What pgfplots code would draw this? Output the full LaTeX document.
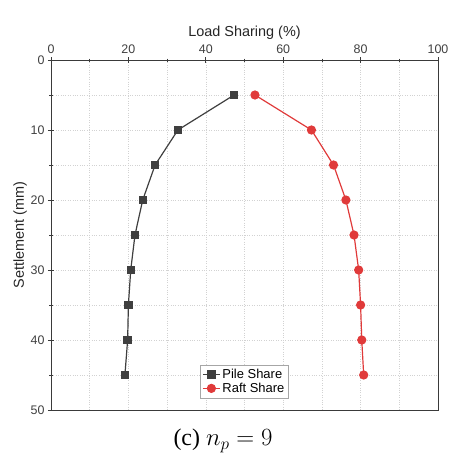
\documentclass[border=0pt]{standalone}
\usepackage{fontspec}
\setmainfont{Liberation Sans}
\newfontfamily\capfont{Liberation Serif}
\usepackage{pgfplots}
\pgfplotsset{compat=1.18}

\definecolor{pilec}{HTML}{3F3F3F}
\definecolor{raftc}{HTML}{E03A3A}
\definecolor{axc}{HTML}{3A3A3A}
\definecolor{gridc}{HTML}{D2D2D2}

\begin{document}
\begin{tikzpicture}
\begin{axis}[
  name=ax,
  scale only axis,
  width=387bp, height=350bp,
  xmin=0, xmax=100, ymin=0, ymax=50,
  y dir=reverse,
  xtick={0,20,...,100}, ytick={0,10,...,50},
  minor xtick={10,30,50,70,90},
  minor ytick={5,15,...,45},
  xtick pos=upper, ytick pos=left,
  xticklabel pos=upper,
  tick align=center,
  major tick length=6bp, minor tick length=3bp,
  every tick/.style={axc, line width=0.8pt},
  axis line style={axc, line width=1pt},
  grid=both,
  major grid style={gridc, dotted, line width=0.6pt},
  minor grid style={gridc, dotted, line width=0.6pt},
  xlabel={Load Sharing (\%)},
  ylabel={Settlement (mm)},
  xlabel near ticks,
  label style={font=\fontsize{14.5}{16}\selectfont, text=black!85},
  ticklabel style={font=\fontsize{12.5}{14}\selectfont, text=black!75},
  /pgf/number format/assume math mode=true,
  xlabel style={yshift=-2bp},
  ylabel style={yshift=-3bp},
  legend style={at={(0.385,0.034)}, anchor=south west,
    draw=black!35, line width=0.6pt, inner sep=2pt,
    font=\fontsize{13}{15}\selectfont, row sep=-1pt,
    cells={anchor=west}},
]
\addplot[pilec, line width=1.2pt, mark=square*, mark size=3.6pt,
  mark options={fill=pilec, draw=pilec}]
  coordinates {(47.3,5) (32.8,10) (26.9,15) (23.7,20) (21.7,25)
               (20.6,30) (20.0,35) (19.8,40) (19.1,45)};
\addlegendentry{Pile Share}
\addplot[raftc, line width=1.2pt, mark=*, mark size=4pt,
  mark options={fill=raftc, draw=raftc}]
  coordinates {(52.7,5) (67.3,10) (73.0,15) (76.2,20) (78.3,25)
               (79.5,30) (80.0,35) (80.3,40) (80.8,45)};
\addlegendentry{Raft Share}
\end{axis}
\path (ax.south west) ++(-51bp,-48bp) coordinate (bl);
\path (ax.north east) ++(10bp,60bp) coordinate (tr);
\path (bl) rectangle (tr);
\node[font=\capfont\fontsize{24}{28}\selectfont, anchor=center]
  at ([xshift=223bp, yshift=17bp]bl) {(c) $n_p = 9$};
\end{tikzpicture}
\end{document}
